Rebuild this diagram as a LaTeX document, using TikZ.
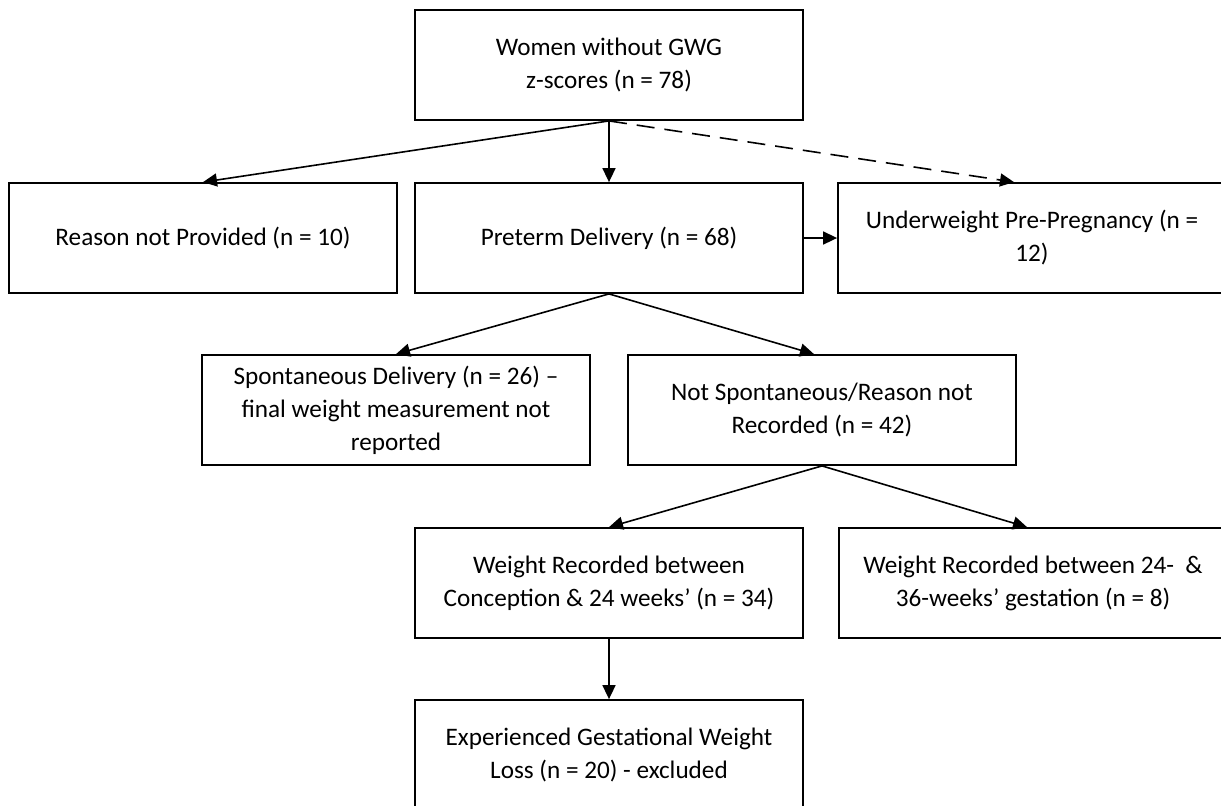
\documentclass[tikz,border=0pt]{standalone}
\usepackage{fontspec}
\setmainfont{Carlito}
\usetikzlibrary{arrows.meta,positioning}

\begin{document}
\begin{tikzpicture}[
  x=0.5pt,y=-0.5pt,
  box/.style={rectangle,draw=black,line width=0.9pt,align=center,minimum width=194pt,minimum height=55pt,inner sep=2pt,font=\fontsize{12.6}{16.5}\selectfont},
  arrow/.style={-{Triangle[length=7pt,width=6.5pt]},line width=0.8pt},
]
\useasboundingbox (0,0) rectangle (1221,805);
\node[box] (women) at (609,65) {Women without GWG\\z-scores (n = 78)};
\node[box] (reason) at (203,238) {Reason not Provided (n = 10)};
\node[box] (preterm) at (609,238) {Preterm Delivery (n = 68)};
\node[box] (under) at (1032,238) {Underweight Pre-Pregnancy (n =\\12)};
\node[box] (spont) at (396,410) {Spontaneous Delivery (n = 26) –\\final weight measurement not\\reported};
\node[box] (notspont) at (822,410) {Not Spontaneous/Reason not\\Recorded (n = 42)};
\node[box] (early) at (609,583) {Weight Recorded between\\Conception \& 24 weeks’ (n = 34)};
\node[box] (late) at (1033,583) {Weight Recorded between 24-~ \&\\36-weeks’ gestation (n = 8)};
\node[box] (loss) at (609,755) {Experienced Gestational Weight\\Loss (n = 20) - excluded};

\draw[arrow] (women.south) -- (reason.north);
\draw[arrow] (women.south) -- (preterm.north);
\draw[arrow,dash pattern=on 9pt off 5pt] (women.south) -- ([xshift=-9pt]under.north);
\draw[arrow] (preterm.east) -- (under.west);
\draw[arrow] (preterm.south) -- (spont.north);
\draw[arrow] (preterm.south) -- ([xshift=-4pt]notspont.north);
\draw[arrow] (notspont.south) -- (early.north);
\draw[arrow] (notspont.south) -- ([xshift=-3pt]late.north);
\draw[arrow] (early.south) -- (loss.north);
\end{tikzpicture}
\end{document}
